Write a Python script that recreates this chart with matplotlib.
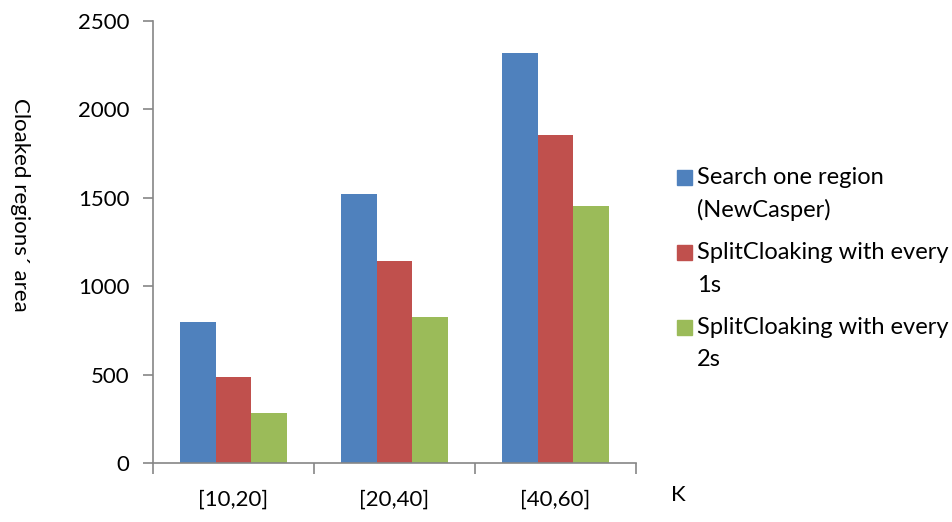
import matplotlib
matplotlib.use("Agg")
import matplotlib.pyplot as plt
from matplotlib.patches import Rectangle
import numpy as np

plt.rcParams['font.family'] = ['Lato', 'DejaVu Sans']

categories = ["[10,20]", "[20,40]", "[40,60]"]
series_names = ["Search one region\n(NewCasper)",
                "SplitCloaking with every\n1s",
                "SplitCloaking with every\n2s"]
search_one = [800, 1520, 2320]
split_1s = [488, 1140, 1855]
split_2s = [285, 825, 1455]
colors = ["#4F81BD", "#C0504D", "#9BBB59"]
yticks = [0, 500, 1000, 1500, 2000, 2500]

W, H = 953, 522
fig = plt.figure(figsize=(W/100, H/100), dpi=100)
ax = fig.add_axes([153/W, 1-463/H, (636-153)/W, (463-21)/H])

x = np.arange(len(categories))
w = 0.222
for i, (vals, c) in enumerate(zip([search_one, split_1s, split_2s], colors)):
    ax.bar(x + (i-1)*w, vals, w, color=c, edgecolor='none', zorder=2)

FS = 16
ax.set_xlim(-0.5, 2.5)
ax.set_ylim(0, 2500)
ax.set_yticks(yticks)
ax.set_yticklabels([str(t) for t in yticks], fontsize=FS)
ax.set_xticks(x)
ax.set_xticklabels(categories, fontsize=FS)
ax.set_xticks([-0.5, 0.5, 1.5, 2.5], minor=True)
ax.tick_params(axis='x', which='major', length=0, pad=19)
ax.tick_params(axis='x', which='minor', length=8, color='#868686', width=1.2)
ax.tick_params(axis='y', which='major', length=7, color='#868686', width=1.2, pad=10)
for s in ['top', 'right']:
    ax.spines[s].set_visible(False)
for s in ['left', 'bottom']:
    ax.spines[s].set_color('#868686')
    ax.spines[s].set_linewidth(1.2)

fig.text(20/W, 1-205/H, "Cloaked regions\u00b4 area", rotation=270,
         ha='center', va='center', fontsize=FS)
fig.text(678/W, 1-495/H, "K", ha='center', va='center', fontsize=FS)

# legend drawn manually (Excel style: marker aligned with first text line)
for i, (name, c) in enumerate(zip(series_names, colors)):
    y0 = 177 + i*75
    fig.add_artist(Rectangle((677/W, 1-(y0+7.5)/H), 15/W, 15/H,
                             transform=fig.transFigure, color=c))
    for j, line in enumerate(name.split("\n")):
        fig.text(697/W, 1-(y0 + j*33)/H, line, ha='left', va='center',
                 fontsize=17)

fig.savefig("out.png", dpi=100)
